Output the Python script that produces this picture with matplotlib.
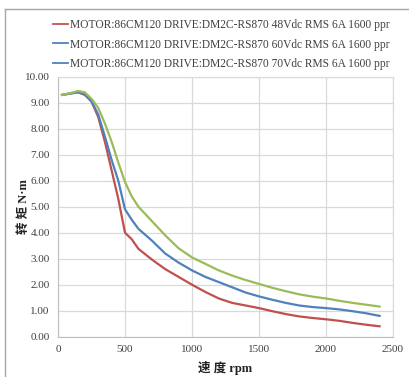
import matplotlib.pyplot as plt
from matplotlib.lines import Line2D

speed = [30, 100, 150, 200, 250, 300, 350, 400, 450, 500, 550, 600, 700, 800,
         900, 1000, 1100, 1200, 1300, 1400, 1500, 1600, 1700, 1800, 1900, 2000,
         2100, 2200, 2300, 2400]
torque_48v = [9.30, 9.36, 9.40, 9.30, 9.05, 8.45, 7.5, 6.4, 5.3, 4.0, 3.75, 3.38,
              2.97, 2.6, 2.3, 2.0, 1.72, 1.47, 1.3, 1.2, 1.1, 0.98, 0.87, 0.78,
              0.72, 0.67, 0.61, 0.53, 0.46, 0.40]
torque_60v = [9.30, 9.36, 9.40, 9.32, 9.05, 8.55, 7.7, 6.8, 6.0, 4.9, 4.5, 4.15,
              3.7, 3.2, 2.85, 2.55, 2.3, 2.1, 1.9, 1.7, 1.55, 1.42, 1.3, 1.2,
              1.14, 1.1, 1.05, 0.98, 0.9, 0.80]
torque_70v = [9.30, 9.38, 9.45, 9.40, 9.15, 8.8, 8.2, 7.5, 6.7, 5.95, 5.4, 5.0,
              4.45, 3.9, 3.4, 3.05, 2.8, 2.55, 2.35, 2.18, 2.03, 1.88, 1.75, 1.63,
              1.54, 1.47, 1.38, 1.3, 1.23, 1.16]
labels = ["MOTOR:86CM120 DRIVE:DM2C-RS870 48Vdc RMS 6A 1600 ppr",
          "MOTOR:86CM120 DRIVE:DM2C-RS870 60Vdc RMS 6A 1600 ppr",
          "MOTOR:86CM120 DRIVE:DM2C-RS870 70Vdc RMS 6A 1600 ppr"]

red, blue, green = "#c0504d", "#4f81bd", "#9bbb59"
serif = ["Liberation Serif", "Noto Sans CJK SC"]
txt = "#404040"

fig = plt.figure(figsize=(4.09, 3.77), dpi=100)
ax = fig.add_axes([58 / 409, 1 - 336.7 / 377, (393 - 58) / 409, (336.7 - 76.7) / 377])

ax.plot(speed, torque_48v, color=red, lw=1.6)
ax.plot(speed, torque_60v, color=blue, lw=1.6)
ax.plot(speed, torque_70v, color=green, lw=1.6)

ax.set_xlim(0, 2500)
ax.set_ylim(0, 10)
ax.set_xticks(range(0, 2501, 500))
ax.set_yticks(range(0, 11))
ax.set_yticklabels([f"{v:.2f}" for v in range(0, 11)])
ax.grid(True, color="#d9d9d9", lw=0.9)
ax.set_axisbelow(True)
for s in ["top", "right"]:
    ax.spines[s].set_color("#d9d9d9")
for s in ["left", "bottom"]:
    ax.spines[s].set_color("#bfbfbf")
ax.tick_params(length=0, labelsize=8, colors=txt, pad=6)
for t in ax.get_xticklabels() + ax.get_yticklabels():
    t.set_family(serif)

ax.set_xlabel("速 度 rpm", fontsize=9, fontweight="bold", family=serif, labelpad=5,
              color="#222222")
ax.set_ylabel("转 矩 N·m", fontsize=9, fontweight="bold", family=serif, labelpad=-4,
              color="#222222")

# legend (the original shows the third entry in blue)
handles = [Line2D([], [], color=red, lw=1.3),
           Line2D([], [], color=blue, lw=1.3),
           Line2D([], [], color=blue, lw=1.3)]
leg = fig.legend(handles, labels, loc="upper right",
                 bbox_to_anchor=(400 / 409, 1 - 9 / 377),
                 frameon=False, handlelength=1.35, handletextpad=0.15,
                 labelspacing=0.62, prop={"family": serif, "size": 8.3})
for t in leg.get_texts():
    t.set_color(txt)

# outer frame
fig.add_artist(Line2D([5 / 409, 5 / 409], [0, 1 - 9 / 377], transform=fig.transFigure,
                      color="#a6a6a6", lw=1))
fig.add_artist(Line2D([5 / 409, 1], [1 - 9 / 377, 1 - 9 / 377], transform=fig.transFigure,
                      color="#a6a6a6", lw=1))

fig.savefig("out.png", dpi=100)
